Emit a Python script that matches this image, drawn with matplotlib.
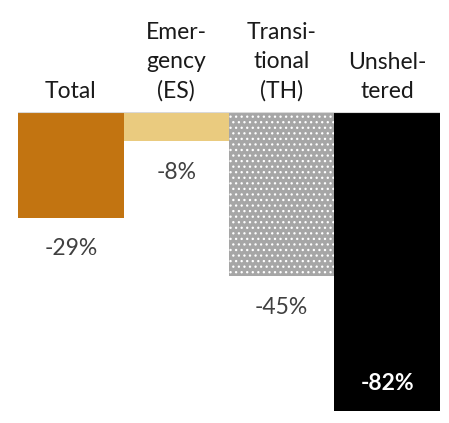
import matplotlib
matplotlib.use("Agg")
import matplotlib.pyplot as plt
import matplotlib.transforms as mtransforms

categories = ["Total", "Emer-\ngency\n(ES)", "Transi-\ntional\n(TH)", "Unshel-\ntered"]
values = [-29, -8, -45, -82]
labels = ["-29%", "-8%", "-45%", "-82%"]
colors = ["#C27411", "#EACB7F", "#A6A6A6", "#000000"]

plt.rcParams['font.family'] = ['Lato', 'DejaVu Sans']
plt.rcParams['hatch.linewidth'] = 0.9

W, H = 449, 423
fig = plt.figure(figsize=(W / 100, H / 100), dpi=100)
top_px = 112
px_per = 3.65
ymin = -85
bottom_px = top_px - ymin * px_per
ax = fig.add_axes([18 / W, 1 - bottom_px / H, (440 - 18) / W, (bottom_px - top_px) / H])
ax.set_xlim(-0.5, 3.5)
ax.set_ylim(ymin, 0)
ax.axis('off')

for i, (v, c) in enumerate(zip(values, colors)):
    if i == 2:
        ax.bar(i, v, width=1.0, color=c, edgecolor='white', linewidth=0, hatch='...')
    else:
        ax.bar(i, v, width=1.0, color=c, linewidth=0)

ax.axhline(0, color='#D9D9D9', linewidth=1.5, zorder=5)

trans = mtransforms.blended_transform_factory(ax.transData, fig.transFigure)
for i, cat in enumerate(categories):
    ax.text(i, 1 - 98 / H, cat, transform=trans, ha='center', va='baseline',
            fontsize=16.5, color='#1a1a1a', linespacing=1.48)

for i, (v, lab) in enumerate(zip(values, labels)):
    if i == 3:
        ax.text(i, v + 7.5, lab, ha='center', va='center', fontsize=16.5,
                color='white', fontweight='bold')
    else:
        ax.text(i, v - 8.5, lab, ha='center', va='center', fontsize=16.5,
                color='#404040')

fig.savefig("out.png", dpi=100)
